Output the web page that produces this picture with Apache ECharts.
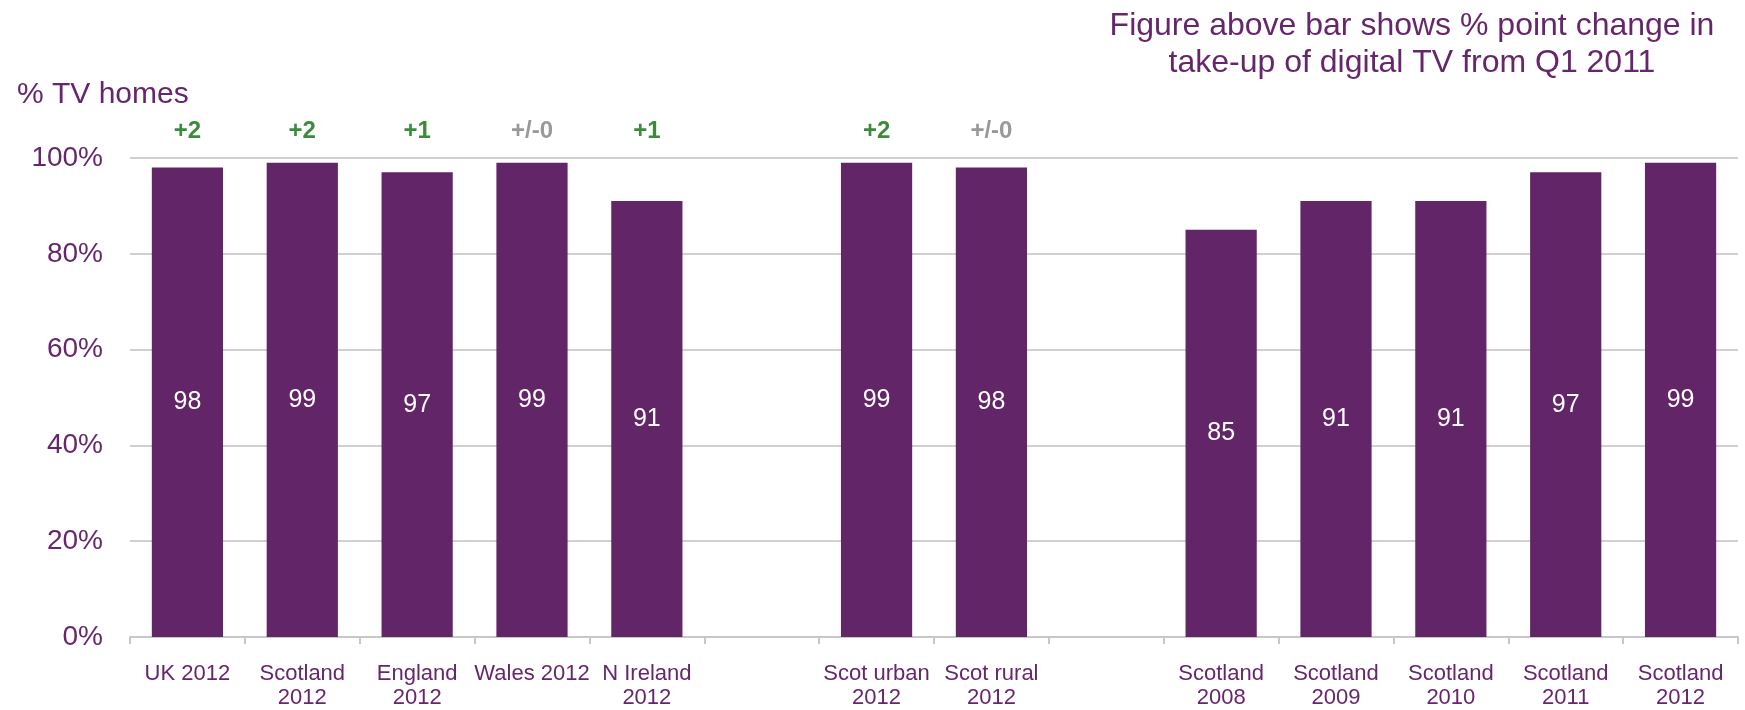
<!DOCTYPE html>
<html>
<head>
<meta charset="utf-8">
<script src="https://cdn.jsdelivr.net/npm/echarts@6/dist/echarts.min.js"></script>
<style>
html,body{margin:0;padding:0;background:#fff;}
#chart{width:1745px;height:710px;}
</style>
</head>
<body>
<div id="chart"></div>
<script>
// Data
const categories = ['UK 2012', 'Scotland\n2012', 'England\n2012', 'Wales 2012', 'N Ireland\n2012', '',
  'Scot urban\n2012', 'Scot rural\n2012', '',
  'Scotland\n2008', 'Scotland\n2009', 'Scotland\n2010', 'Scotland\n2011', 'Scotland\n2012'];
const takeUp = [98, 99, 97, 99, 91, null, 99, 98, null, 85, 91, 91, 97, 99];
const changeLabels = ['+2', '+2', '+1', '+/-0', '+1', null, '+2', '+/-0', null, null, null, null, null, null];
const yTicks = [0, 20, 40, 60, 80, 100];

const PURPLE = '#622567';
const TEXT = '#66266b';
const GREEN = '#0b6e0b';
const GREY = '#808080';
const LABEL_ROW = 105.6; // value level where change figures sit (above plot)

const changeData = changeLabels.map((t, i) => t === null ? null : {
  value: [i, LABEL_ROW],
  label: {color: t === '+/-0' ? GREY : GREEN, formatter: t}
});

const chart = echarts.init(document.getElementById('chart'));
chart.setOption({
  animation: false,
  textStyle: {fontFamily: "'Liberation Sans', Arial, sans-serif"},
  title: [
    {
      text: 'Figure above bar shows % point change in\ntake-up of digital TV from Q1 2011',
      left: 1407, top: 3, textAlign: 'center',
      textStyle: {fontSize: 32, fontWeight: 'normal', color: TEXT, lineHeight: 37,
        fontFamily: "'Liberation Sans', Arial, sans-serif"}
    },
    {
      text: '% TV homes', left: 12, top: 75,
      textStyle: {fontSize: 30, fontWeight: 'normal', color: TEXT,
        fontFamily: "'Liberation Sans', Arial, sans-serif"}
    }
  ],
  grid: {left: 130, right: 7, top: 158, bottom: 72, containLabel: false},
  xAxis: {
    type: 'category',
    data: categories,
    axisLine: {lineStyle: {color: '#c8c8c8', width: 2}},
    axisTick: {show: true, length: 7, lineStyle: {color: '#c8c8c8', width: 2}},
    axisLabel: {interval: 0, color: TEXT, fontSize: 22, lineHeight: 24, margin: 25,
      fontFamily: "'Liberation Sans Narrow', 'Arial Narrow', 'Liberation Sans', Arial, sans-serif"}
  },
  yAxis: {
    type: 'value', min: 0, max: 100, interval: 20,
    axisLine: {show: false}, axisTick: {show: false},
    splitLine: {lineStyle: {color: '#d0d0d0', width: 2}},
    axisLabel: {color: TEXT, fontSize: 28, margin: 27, formatter: v => yTicks.includes(v) ? v + '%' : ''}
  },
  series: [
    {
      type: 'bar',
      data: takeUp,
      barCategoryGap: '38%',
      itemStyle: {color: PURPLE},
      label: {show: true, position: 'inside', color: '#ffffff', fontSize: 25}
    },
    {
      type: 'scatter',
      data: changeData,
      symbolSize: 0,
      clip: false,
      silent: true,
      label: {show: true, position: 'inside', fontSize: 24, fontWeight: 'bold'}
    }
  ]
});
</script>
</body>
</html>
